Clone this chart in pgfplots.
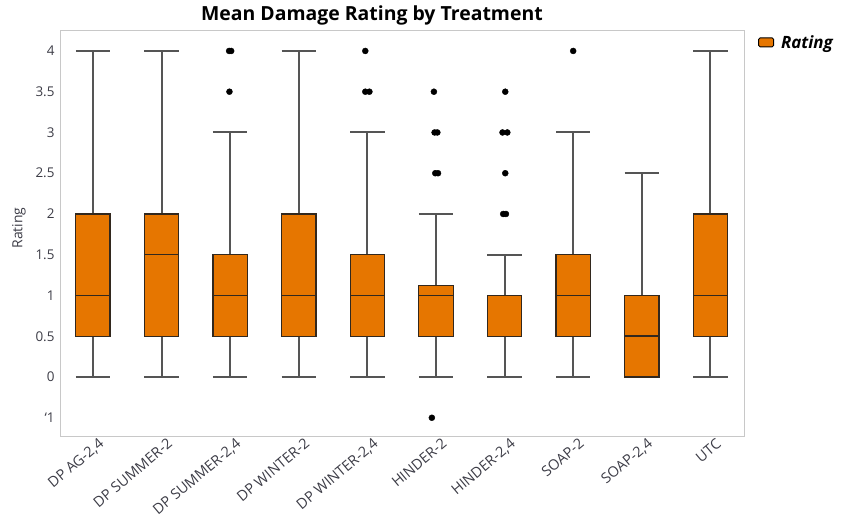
\documentclass[border=0pt]{standalone}
\usepackage{fontspec}
\setmainfont{Open Sans}
\usepackage{pgfplots}
\pgfplotsset{compat=1.18}
\usepgfplotslibrary{statistics}
\definecolor{boxor}{RGB}{230,118,0}
\definecolor{boxline}{RGB}{50,40,30}
\definecolor{whisk}{RGB}{85,85,85}
\definecolor{framegray}{RGB}{200,200,200}
\definecolor{ticktext}{RGB}{60,60,70}
\begin{document}
\begin{tikzpicture}[x=1bp,y=1bp]
\useasboundingbox (0,0) rectangle (841,529);
\begin{axis}[
  at={(60bp,92bp)}, anchor=south west,
  scale only axis, width=684bp, height=406bp,
  xmin=-0.48, xmax=9.49, ymin=-0.736, ymax=4.245,
  xtick={0,...,9},
  xticklabels={{DP AG-2,4},DP SUMMER-2,{DP SUMMER-2,4},DP WINTER-2,{DP WINTER-2,4},HINDER-2,{HINDER-2,4},SOAP-2,{SOAP-2,4},UTC},
  ytick={-0.5,0,0.5,1,1.5,2,2.5,3,3.5,4},
  yticklabels={`1,0,0.5,1,1.5,2,2.5,3,3.5,4},
  /pgf/number format/assume math mode=true,
  major tick length=0pt,
  axis line style={draw=framegray, line width=1pt},
  tick label style={font=\fontsize{13.5}{15}\selectfont, text=ticktext},
  yticklabel style={xshift=-2bp},
  xticklabel style={rotate=40, anchor=north east, xshift=7bp, yshift=0bp, font=\fontsize{14.5}{16}\selectfont},
  ylabel={Rating},
  ylabel style={at={(axis description cs:-0.06,0.515)}, anchor=center, font=\fontsize{14}{16}\selectfont, text=ticktext},
  title={\textbf{Mean Damage Rating by Treatment}},
  title style={at={(axis description cs:0.456,1)}, anchor=base, yshift=5bp, font=\fontsize{19.5}{22}\selectfont},
  legend style={at={(axis description cs:1.016,1.0)}, anchor=north west, draw=none, fill=none,
    font=\fontsize{17}{19}\selectfont, legend cell align=left},
  boxplot/draw direction=y,
  boxplot/every whisker/.style={draw=whisk, line width=2bp},
  boxplot/every box/.style={draw=boxline, fill=boxor, line width=1.2bp},
  boxplot/every median/.style={draw=boxline, line width=1.5bp},
  clip=false,
]
\addlegendimage{legend image code/.code={\draw[fill=boxor,draw=black,line width=0.9pt,rounded corners=1.5pt] (0bp,-4.5bp) rectangle (15bp,4.5bp);}}
\addlegendentry{\hspace{5bp}\textbf{\textit{Rating}}}

\addplot[boxplot prepared={draw position=0, lower whisker=0, lower quartile=0.5, median=1, upper quartile=2, upper whisker=4, box extend=0.5, whisker extend=0.5}] coordinates {};
\addplot[boxplot prepared={draw position=1, lower whisker=0, lower quartile=0.5, median=1.5, upper quartile=2, upper whisker=4, box extend=0.5, whisker extend=0.5}] coordinates {};
\addplot[boxplot prepared={draw position=2, lower whisker=0, lower quartile=0.5, median=1, upper quartile=1.5, upper whisker=3, box extend=0.5, whisker extend=0.5}] coordinates {};
\addplot[boxplot prepared={draw position=3, lower whisker=0, lower quartile=0.5, median=1, upper quartile=2, upper whisker=4, box extend=0.5, whisker extend=0.5}] coordinates {};
\addplot[boxplot prepared={draw position=4, lower whisker=0, lower quartile=0.5, median=1, upper quartile=1.5, upper whisker=3, box extend=0.5, whisker extend=0.5}] coordinates {};
\addplot[boxplot prepared={draw position=5, lower whisker=0, lower quartile=0.5, median=1, upper quartile=1.125, upper whisker=2, box extend=0.5, whisker extend=0.5}] coordinates {};
\addplot[boxplot prepared={draw position=6, lower whisker=0, lower quartile=0.5, median=1, upper quartile=1, upper whisker=1.5, box extend=0.5, whisker extend=0.5}] coordinates {};
\addplot[boxplot prepared={draw position=7, lower whisker=0, lower quartile=0.5, median=1, upper quartile=1.5, upper whisker=3, box extend=0.5, whisker extend=0.5}] coordinates {};
\addplot[boxplot prepared={draw position=8, lower whisker=0, lower quartile=0, median=0.5, upper quartile=1, upper whisker=2.5, box extend=0.5, whisker extend=0.5}] coordinates {};
\addplot[boxplot prepared={draw position=9, lower whisker=0, lower quartile=0.5, median=1, upper quartile=2, upper whisker=4, box extend=0.5, whisker extend=0.5}] coordinates {};

% outliers
\addplot[only marks, mark=*, mark size=3bp, mark options={fill=black, draw=black}] coordinates {
  (1.985,4) (2.015,4) (1.99,3.5)
  (3.97,4) (3.97,3.5) (4.03,3.5)
  (4.97,3.5) (4.98,3) (5.02,3) (4.99,2.5) (5.03,2.5) (4.94,-0.5)
  (6.01,3.5) (5.97,3) (6.04,3) (6.01,2.5) (5.98,2) (6.02,2)
  (7.0,4)
};
\end{axis}
\end{tikzpicture}
\end{document}
